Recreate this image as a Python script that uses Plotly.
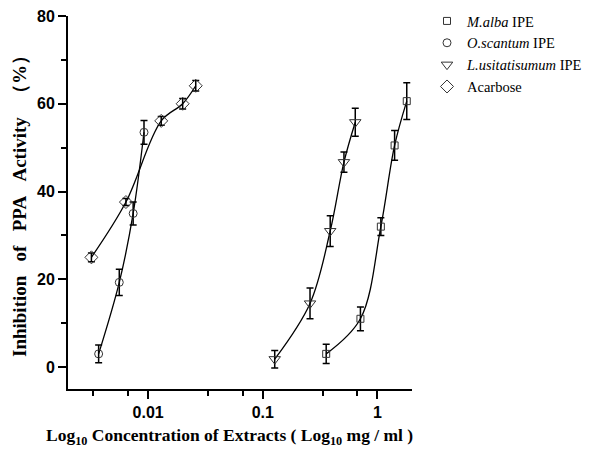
import plotly.graph_objects as go

# ---- data ----
malba_x = [0.357, 0.71, 1.07, 1.41, 1.8]
malba_y = [3.0, 11.0, 32.0, 50.5, 60.6]
malba_err = [2.2, 2.7, 2.0, 3.4, 4.2]

oscantum_x = [0.0037, 0.0056, 0.0074, 0.0092]
oscantum_y = [3.0, 19.3, 35.0, 53.5]
oscantum_err = [2.0, 3.0, 2.6, 2.7]

lusit_x = [0.127, 0.258, 0.387, 0.51, 0.64]
lusit_y = [1.8, 14.5, 31.0, 46.7, 55.8]
lusit_err = [2.0, 3.5, 3.5, 2.3, 3.2]

acarbose_x = [0.0032, 0.0064, 0.013, 0.020, 0.026]
acarbose_y = [25.0, 37.6, 56.1, 60.0, 64.1]
acarbose_err = [1.0, 0.8, 1.0, 1.2, 1.2]

series_names = ["<i>M.alba</i> IPE", "<i>O.scantum</i> IPE",
                "<i>L.usitatisumum</i> IPE", "Acarbose"]
x_tick_vals = [0.01, 0.1, 1]
x_tick_text = ["0.01", "0.1", "1"]
x_minor_vals = [0.00333, 0.00667, 0.0333, 0.0667, 0.333, 0.667]
y_tick_vals = [0, 20, 40, 60, 80]

series = [
    (malba_x, malba_y, malba_err, "square-open", 7),
    (oscantum_x, oscantum_y, oscantum_err, "circle-open", 8),
    (lusit_x, lusit_y, lusit_err, "triangle-down-open", 10),
    (acarbose_x, acarbose_y, acarbose_err, "diamond-open", 10),
]

SERIF = "Liberation Serif, Times New Roman, serif"
SANS = "Liberation Sans, Arial, sans-serif"

fig = go.Figure()
for (xs, ys, es, sym, sz), name in zip(series, series_names):
    fig.add_trace(go.Scatter(
        x=xs, y=ys, mode="lines", showlegend=False, hoverinfo="skip",
        line=dict(color="black", width=1.3, shape="spline", smoothing=1.0)))
    fig.add_trace(go.Scatter(
        x=xs, y=ys, mode="markers", name=name,
        marker=dict(symbol=sym, size=sz, color="#333333",
                    line=dict(width=1, color="#333333")),
        error_y=dict(type="data", array=es, visible=True,
                     color="black", thickness=1.5, width=3.5)))

W, H = 600, 465
L, R, T, B = 68, 188, 16, 76
pw, ph = W - L - R, H - T - B

gap = "\u00a0" * 3
ytitle = gap.join(["Inhibition", "of", "PPA", "Activity", "（%）"])

fig.update_layout(
    width=W, height=H,
    margin=dict(l=L, r=R, t=T, b=B, pad=0, autoexpand=False),
    paper_bgcolor="white", plot_bgcolor="white",
    font=dict(family=SERIF, color="black"),
    legend=dict(x=(427 - L) / pw, y=1 + (T - 5) / ph, xanchor="left", yanchor="top",
                font=dict(family=SERIF, size=14.5, color="black"),
                bgcolor="rgba(0,0,0,0)", tracegroupgap=0, itemwidth=30),
    xaxis=dict(
        type="log", range=[-2.699, 0.301], automargin=False,
        showgrid=False, zeroline=False,
        showline=True, linecolor="black", linewidth=2,
        ticks="outside", ticklen=8, tickwidth=2, tickcolor="black",
        tickvals=x_tick_vals, ticktext=x_tick_text,
        tickfont=dict(family=SANS, size=16, weight=700, color="black"),
        minor=dict(tickvals=x_minor_vals, ticks="outside", ticklen=5,
                   tickwidth=2, tickcolor="black", showgrid=False),
    ),
    yaxis=dict(
        range=[-5, 80], automargin=False,
        showgrid=False, zeroline=False,
        showline=True, linecolor="black", linewidth=2,
        ticks="outside", ticklen=8, tickwidth=2, tickcolor="black",
        tickvals=y_tick_vals,
        tickfont=dict(family=SANS, size=16, weight=700, color="black"),
        minor=dict(dtick=10, ticks="outside", ticklen=5,
                   tickwidth=2, tickcolor="black", showgrid=False),
    ),
    annotations=[
        dict(text=ytitle, textangle=-90,
             xref="paper", yref="paper",
             x=(19 - L) / pw, y=1 - (202 - T) / ph,
             xanchor="center", yanchor="middle", showarrow=False,
             font=dict(family=SERIF, size=19, weight=700, color="black")),
        dict(text="Log<sub>10</sub> Concentration of Extracts ( Log<sub>10</sub> mg / ml )",
             xref="paper", yref="paper",
             x=(229 - L) / pw, y=-(436 - T - ph) / ph,
             xanchor="center", yanchor="middle", showarrow=False,
             font=dict(family=SERIF, size=17.5, weight=700, color="black")),
    ],
)

fig.write_html("out.html", config={"displayModeBar": False},
               post_script="document.body.style.margin='0px';")
